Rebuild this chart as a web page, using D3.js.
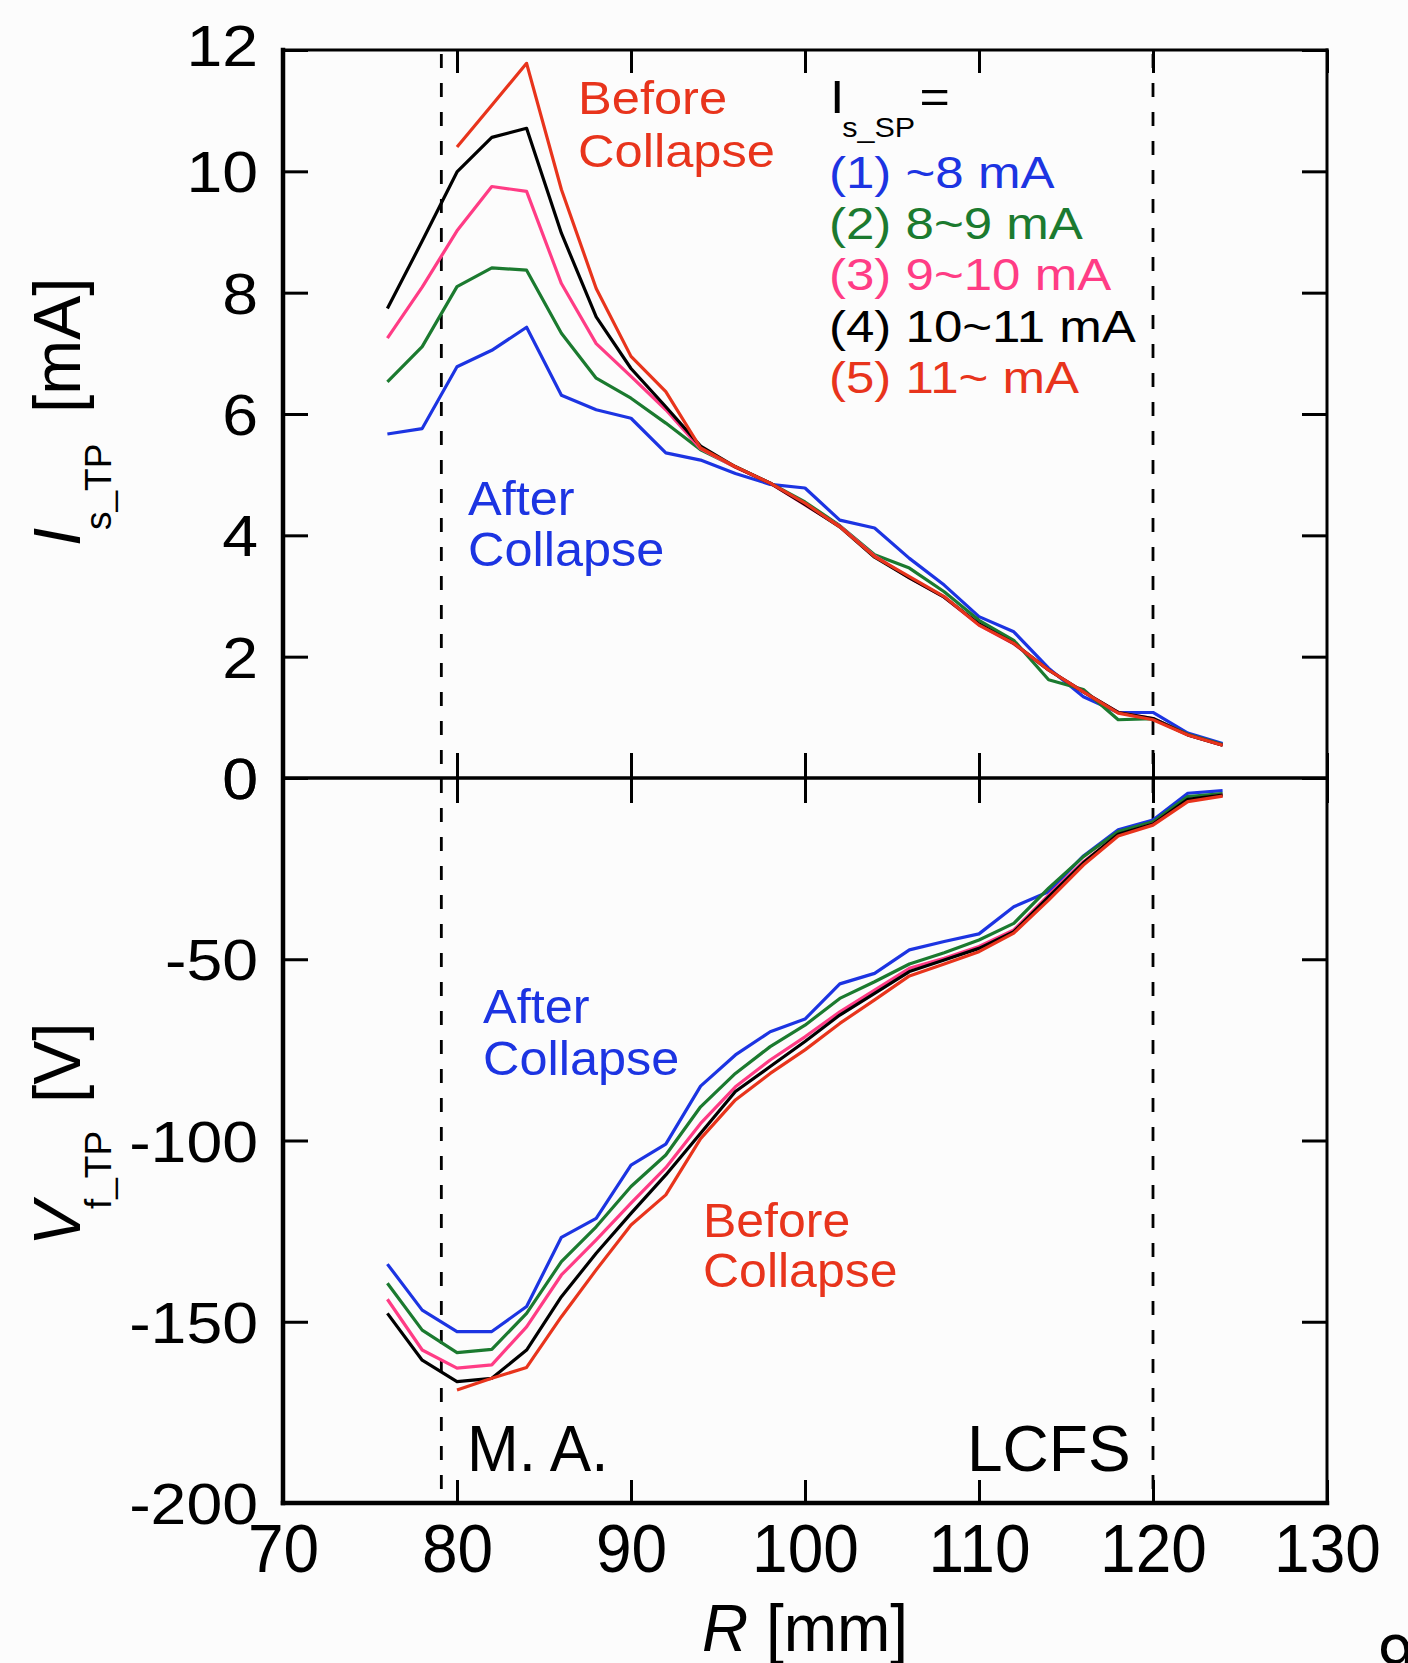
<!DOCTYPE html>
<meta charset="utf-8">
<title>Triple probe profiles</title>
<script src="https://d3js.org/d3.v7.min.js"></script>
<style>
  body { margin: 0; background: #fcfcfc; }
  svg { display: block; }
</style>
<body>
<script>

// radial position R [mm]
const R = [76, 78, 80, 82, 84, 86, 88, 90, 92, 94, 96, 98, 100, 102, 104, 106, 108, 110, 112, 114, 116, 118, 120, 122, 124];

// I_s_TP [mA], one array per I_s_SP group
const isBlue  = [5.67, 5.76, 6.78, 7.05, 7.43, 6.31, 6.07, 5.93, 5.36, 5.24, 5.02, 4.84, 4.78, 4.25, 4.12, 3.62, 3.18, 2.66, 2.41, 1.81, 1.34, 1.08, 1.08, 0.74, 0.57];
const isGreen = [6.53, 7.11, 8.10, 8.41, 8.37, 7.33, 6.59, 6.26, 5.85, 5.41, 5.13, 4.86, 4.55, 4.16, 3.68, 3.46, 3.07, 2.60, 2.27, 1.62, 1.46, 0.96, 0.98, 0.72, 0.55];
const isPink  = [7.25, 8.09, 9.02, 9.75, 9.67, 8.15, 7.16, 6.62, 6.07, 5.43, 5.12, 4.86, 4.50, 4.15, 3.66, 3.30, 2.98, 2.52, 2.21, 1.78, 1.42, 1.08, 0.98, 0.71, 0.54];
const isBlack = [7.74, 8.85, 9.99, 10.56, 10.71, 8.98, 7.60, 6.75, 6.12, 5.47, 5.13, 4.86, 4.51, 4.14, 3.64, 3.30, 2.98, 2.54, 2.22, 1.78, 1.42, 1.08, 0.98, 0.71, 0.54];
const isRed   = [null, null, 10.40, 11.09, 11.78, 9.70, 8.07, 6.95, 6.37, 5.44, 5.13, 4.86, 4.53, 4.14, 3.65, 3.32, 2.99, 2.52, 2.22, 1.78, 1.42, 1.07, 0.96, 0.71, 0.54];

// V_f_TP [V]
const vfBlue  = [-134.1, -146.8, -152.7, -152.7, -145.8, -126.7, -121.5, -106.8, -101.0, -85.0, -76.4, -70.0, -66.5, -56.8, -53.9, -47.4, -45.1, -43.0, -35.5, -31.4, -21.5, -14.3, -11.6, -4.2, -3.5];
const vfGreen = [-139.4, -152.3, -158.5, -157.6, -147.7, -133.4, -123.8, -112.7, -104.0, -90.7, -81.5, -74.1, -68.2, -60.8, -56.2, -51.3, -48.2, -44.7, -40.1, -30.4, -21.7, -14.8, -12.1, -5.1, -4.3];
const vfPink  = [-143.8, -157.8, -162.8, -161.9, -151.4, -137.1, -127.4, -117.3, -107.5, -95.3, -85.2, -77.8, -71.4, -64.5, -58.5, -52.5, -49.7, -46.5, -41.9, -32.3, -23.1, -15.7, -12.7, -6.1, -4.7];
const vfBlack = [-147.7, -160.6, -166.5, -165.6, -157.8, -143.1, -131.1, -120.1, -109.5, -98.0, -86.5, -79.6, -72.7, -65.4, -59.4, -53.4, -50.2, -47.0, -42.4, -32.8, -23.4, -15.5, -12.7, -5.9, -4.7];
const vfRed   = [null, null, -168.8, -165.6, -162.6, -148.6, -135.7, -123.3, -115.0, -99.5, -88.8, -81.5, -75.0, -67.7, -61.2, -54.6, -51.3, -47.9, -42.8, -33.7, -24.0, -16.0, -13.0, -6.5, -5.0];

const groups = ["(1) ~8 mA", "(2) 8~9 mA", "(3) 9~10 mA", "(4) 10~11 mA", "(5) 11~ mA"];
const colors = ["#1c34e2", "#1b7a2f", "#ff3c85", "#000000", "#e8341c"];

const xTicks = [70, 80, 90, 100, 110, 120, 130];
const topTicks = [0, 2, 4, 6, 8, 10, 12];
const botTicks = [-200, -150, -100, -50, 0];
const magAxis = 79.1;   // M. A.
const lcfs = 120;       // LCFS

const width = 1408, height = 1663;
const font = "'Liberation Sans', Arial, Helvetica, sans-serif";

const x = d3.scaleLinear().domain([70, 130]).range([283, 1327]);
const yTop = d3.scaleLinear().domain([0, 12]).range([778, 50]);
const yBot = d3.scaleLinear().domain([-200, 0]).range([1503, 778]);

// plain hyphen for negatives, like the original
const plain = d => String(d);

const svg = d3.select("body").append("svg")
  .attr("width", width)
  .attr("height", height)
  .style("font-family", font);

svg.append("rect").attr("width", width).attr("height", height).attr("fill", "#fcfcfc");

// dashed markers (drawn first, under the curves)
[magAxis, lcfs].forEach(v => {
  svg.append("line")
    .attr("x1", x(v)).attr("x2", x(v))
    .attr("y1", yTop(12) + 4).attr("y2", yBot(-200))
    .attr("stroke", "#000").attr("stroke-width", 2.8)
    .attr("stroke-dasharray", "14,15");
});

// curves
const topSeries = [isBlue, isGreen, isPink, isBlack, isRed];
const botSeries = [vfBlue, vfGreen, vfPink, vfBlack, vfRed];

const lineTop = d3.line().defined(d => d != null).x((d, i) => x(R[i])).y(d => yTop(d));
const lineBot = d3.line().defined(d => d != null).x((d, i) => x(R[i])).y(d => yBot(d));

topSeries.forEach((s, i) => {
  svg.append("path").datum(s)
    .attr("d", lineTop)
    .attr("fill", "none").attr("stroke", colors[i]).attr("stroke-width", 3.2)
    .attr("stroke-linejoin", "round");
});
botSeries.forEach((s, i) => {
  svg.append("path").datum(s)
    .attr("d", lineBot)
    .attr("fill", "none").attr("stroke", colors[i]).attr("stroke-width", 3.2)
    .attr("stroke-linejoin", "round");
});

// axes
function styleTicks(g) {
  g.select(".domain").remove();
  g.selectAll(".tick line").attr("stroke", "#000").attr("stroke-width", 3);
}

// bottom axis with labels
svg.append("g")
  .attr("transform", `translate(0,${yBot(-200)})`)
  .call(d3.axisBottom(x).tickValues(xTicks).tickFormat(plain).tickSizeInner(-23).tickSizeOuter(0))
  .call(styleTicks)
  .call(g => g.selectAll(".tick text")
    .attr("y", null).attr("dy", null)
    .attr("transform", "translate(0,69) scale(1,1.07)")
    .attr("font-size", 64).attr("font-family", font).attr("fill", "#000"));

// top axis, ticks only
svg.append("g")
  .attr("transform", `translate(0,${yTop(12)})`)
  .call(d3.axisTop(x).tickValues(xTicks).tickSizeInner(-23).tickSizeOuter(0).tickFormat(""))
  .call(styleTicks);

// ticks on the zero line, up and down
svg.append("g")
  .attr("transform", `translate(0,${yTop(0)})`)
  .call(d3.axisTop(x).tickValues(xTicks).tickSizeInner(25).tickSizeOuter(0).tickFormat(""))
  .call(styleTicks);
svg.append("g")
  .attr("transform", `translate(0,${yTop(0)})`)
  .call(d3.axisBottom(x).tickValues(xTicks).tickSizeInner(25).tickSizeOuter(0).tickFormat(""))
  .call(styleTicks);

// left axes with labels
function leftLabels(g) {
  g.selectAll(".tick text")
    .attr("x", null).attr("dy", null)
    .attr("transform", d => `translate(-25,${d === 12 ? 15 : 20.5}) scale(1.13,1)`)
    .attr("font-size", 57).attr("font-family", font).attr("fill", "#000");
}
svg.append("g")
  .attr("transform", `translate(${x(70)},0)`)
  .call(d3.axisLeft(yTop).tickValues(topTicks).tickFormat(plain).tickSizeInner(-25).tickSizeOuter(0))
  .call(styleTicks).call(leftLabels);
svg.append("g")
  .attr("transform", `translate(${x(70)},0)`)
  .call(d3.axisLeft(yBot).tickValues(botTicks).tickFormat(plain).tickSizeInner(-25).tickSizeOuter(0))
  .call(styleTicks).call(leftLabels);

// right axes, ticks only
svg.append("g")
  .attr("transform", `translate(${x(130)},0)`)
  .call(d3.axisRight(yTop).tickValues(topTicks).tickSizeInner(-25).tickSizeOuter(0).tickFormat(""))
  .call(styleTicks);
svg.append("g")
  .attr("transform", `translate(${x(130)},0)`)
  .call(d3.axisRight(yBot).tickValues(botTicks).tickSizeInner(-25).tickSizeOuter(0).tickFormat(""))
  .call(styleTicks);

// frame
const frame = [
  [x(70), yTop(12), x(130), yTop(12), 3],
  [x(130), yTop(12), x(130), yBot(-200), 3],
  [x(70), yTop(0), x(130), yTop(0), 3.5],
  [x(70), yBot(-200), x(130), yBot(-200), 4.5],
  [x(70), yTop(12), x(70), yBot(-200), 4.5]
];
frame.forEach(f => {
  svg.append("line")
    .attr("x1", f[0]).attr("y1", f[1]).attr("x2", f[2]).attr("y2", f[3])
    .attr("stroke", "#000").attr("stroke-width", f[4]).attr("stroke-linecap", "square");
});

// text helper
function note(px, py, str, o) {
  return svg.append("text")
    .attr("transform", `translate(${px},${py}) scale(${o.sx || 1},${o.sy || 1})`)
    .attr("font-size", o.size)
    .attr("fill", o.color || "#000")
    .attr("text-anchor", o.anchor || "start")
    .text(str);
}

// annotations
const blueTxt = colors[0], redTxt = colors[4];
note(578, 114, "Before", {size: 46, sx: 1.1, color: redTxt});
note(578, 167, "Collapse", {size: 46, sx: 1.1, color: redTxt});
note(468, 515, "After", {size: 49, sx: 1.03, color: blueTxt});
note(468, 566, "Collapse", {size: 49, sx: 1.03, color: blueTxt});
note(483, 1023, "After", {size: 49, sx: 1.03, color: blueTxt});
note(483, 1075, "Collapse", {size: 49, sx: 1.03, color: blueTxt});
note(703, 1237, "Before", {size: 49, sx: 1.02, color: redTxt});
note(703, 1287, "Collapse", {size: 49, sx: 1.02, color: redTxt});
note(467, 1471, "M. A.", {size: 64, sx: 0.97});
note(967, 1471, "LCFS", {size: 64});

// legend
const head = svg.append("text")
  .attr("transform", "translate(830,113) scale(1.13,1)")
  .attr("fill", "#000");
head.append("tspan").attr("font-size", 46).text("I");
head.append("tspan").attr("font-size", 27).attr("dx", -2).attr("dy", 24).text("s_SP");
head.append("tspan").attr("font-size", 46).attr("dx", 4).attr("dy", -24).text("=");

groups.forEach((g, i) => {
  note(829, 188 + i * 51.2, g, {size: 44, sx: 1.16, color: colors[i]});
});

// axis titles
const yl1 = svg.append("text")
  .attr("transform", "translate(80,546) rotate(-90)")
  .attr("font-size", 66).attr("fill", "#000");
yl1.append("tspan").attr("font-style", "italic").text("I");
yl1.append("tspan").attr("x", 16).attr("dy", 31).attr("font-size", 37).text("s_TP");
yl1.append("tspan").attr("x", 133).attr("dy", -31).text("[mA]");

const yl2 = svg.append("text")
  .attr("transform", "translate(80,1246) rotate(-90)")
  .attr("font-size", 66).attr("fill", "#000");
yl2.append("tspan").attr("font-style", "italic").text("V");
yl2.append("tspan").attr("x", 37).attr("dy", 31).attr("font-size", 37).text("f_TP");
yl2.append("tspan").attr("x", 143).attr("dy", -31).text("[V]");

const xl = svg.append("text")
  .attr("transform", `translate(${(x(70) + x(130)) / 2},1651) scale(1,1.05)`)
  .attr("text-anchor", "middle")
  .attr("font-size", 64).attr("fill", "#000");
xl.append("tspan").attr("font-style", "italic").text("R");
xl.append("tspan").text(" [mm]");

// page number, cut at the edge
note(1378, 1680, "9", {size: 64});

</script>
</body>
